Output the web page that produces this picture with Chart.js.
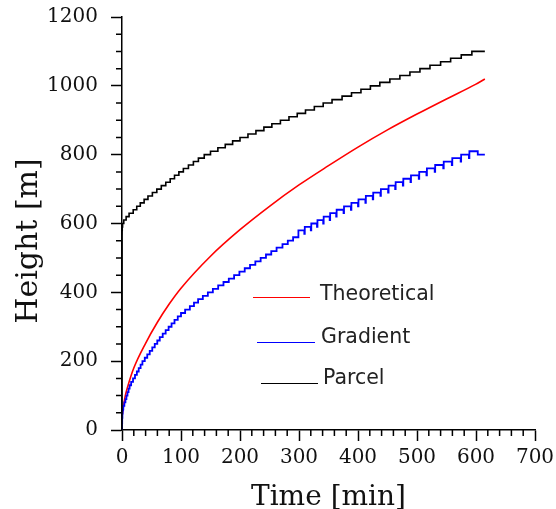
<!DOCTYPE html>
<html>
<head>
<meta charset="utf-8">
<script src="https://cdn.jsdelivr.net/npm/chart.js@4.4.1/dist/chart.umd.min.js"></script>
<style>
  html, body { margin: 0; padding: 0; background: #fff; }
  #wrap { width: 556px; height: 509px; }
</style>
</head>
<body>
<div id="wrap"><canvas id="c" width="556" height="509"></canvas></div>
<script>
// ---- data ----
const seriesNames = ['Theoretical', 'Gradient', 'Parcel'];
const xTicks = [0, 100, 200, 300, 400, 500, 600, 700];
const yTicks = [0, 200, 400, 600, 800, 1000, 1200];
const xTitle = 'Time [min]';
const yTitle = 'Height [m]';

// Theoretical (smooth curve): [time min, height m]
const theoretical = [
  [0, 40], [5, 95], [10, 128], [20, 180], [40, 252], [60, 313], [80, 366],
  [100, 412], [150, 505], [200, 582], [250, 650], [300, 712], [350, 768],
  [400, 822], [450, 872], [500, 918], [550, 962], [600, 1005], [615, 1020]
];

// Gradient (staircase): [time at which level is reached, level]
const gradient = [
  [0, 0], [0.3, 20], [0.7, 35], [1.2, 48], [1.7, 57], [2.2, 60], [4, 70], [5.8, 80],
  [7.5, 90], [9.3, 100], [11.1, 110], [12.9, 120], [15.5, 130], [18.7, 140], [22, 150],
  [25.2, 160], [28.3, 170], [31.5, 180], [34.6, 190], [38.6, 200], [42.8, 210], [47, 220],
  [51.3, 230], [55.5, 240], [59.8, 250], [64, 260], [69, 270], [74, 280], [79, 290],
  [84, 300], [89, 310], [94.5, 320], [100, 330], [107, 340], [115, 350], [122, 360],
  [129, 370], [137, 380], [145.5, 390], [154, 400], [163, 410], [172, 420], [181, 430],
  [190, 440], [199, 450], [208, 460], [217, 470], [226, 480], [235, 490], [244, 500],
  [253, 510], [262, 520], [272, 530], [281, 540], [290, 550], [299, 560], [309, 570],
  [320, 580], [330.5, 590], [341, 600], [352, 610], [363, 620], [375.5, 630], [388, 640],
  [400, 650], [412.5, 660], [425, 670], [438, 680], [451, 690], [463, 700], [476, 710],
  [489, 720], [503, 730], [516, 740], [530, 750], [544.5, 760], [559, 770], [574, 780],
  [588, 790], [603, 800], [615, 800]
];
// brief overshoot (m) visible at each Gradient step in the later part of the run
const gradientOvershoot = 10;
const gradientOvershootFrom = 300;

// Parcel (staircase): [time at which level is reached, level]
const parcel = [
  [0, 0], [0, 566], [0.1, 570], [0.4, 580], [1, 590], [3, 600], [7, 610], [12, 620],
  [19, 630], [25, 640], [31, 650], [37.5, 660], [44, 670], [51.5, 680], [59, 690],
  [66.6, 700], [74.2, 710], [81.7, 720], [89, 730], [96.4, 740], [104, 750], [112.6, 760],
  [121, 770], [129.5, 780], [139.4, 790], [150, 800], [162.5, 810], [175, 820],
  [187.5, 830], [200, 840], [213.5, 850], [227, 860], [240.5, 870], [254, 880],
  [268.5, 890], [283, 900], [297, 910], [311, 920], [326, 930], [341, 940], [356, 950],
  [373, 960], [389, 970], [405, 980], [421, 990], [437, 1000], [454, 1010], [471, 1020],
  [488, 1030], [505, 1040], [522, 1050], [540, 1060], [557, 1070], [575, 1080],
  [593, 1090], [610, 1100], [615, 1100]
];

// ---- chart ----
const toXY = arr => arr.map(p => ({ x: p[0], y: p[1] }));
const gradientXY = [];
gradient.forEach((p, i) => {
  if (p[0] >= gradientOvershootFrom && i < gradient.length - 1) {
    gradientXY.push({ x: p[0], y: p[1] + gradientOvershoot }, { x: p[0] + 0.8, y: p[1] });
  } else {
    gradientXY.push({ x: p[0], y: p[1] });
  }
});

const serif = "'DejaVu Serif', serif";
const sans = "'DejaVu Sans', sans-serif";

const decor = {
  id: 'decor',
  afterDraw(chart) {
    const ctx = chart.ctx, xs = chart.scales.x, ys = chart.scales.y;
    ctx.save();
    // minor ticks
    ctx.strokeStyle = '#000';
    ctx.lineWidth = 1.5;
    ctx.beginPath();
    for (let v = 20; v < 700; v += 20) {
      if (v % 100 === 0) continue;
      const px = xs.getPixelForValue(v);
      ctx.moveTo(px, ys.bottom);
      ctx.lineTo(px, ys.bottom + 6);
    }
    for (let v = 50; v < 1200; v += 50) {
      if (v % 200 === 0) continue;
      const py = ys.getPixelForValue(v);
      ctx.moveTo(xs.left, py);
      ctx.lineTo(xs.left - 6, py);
    }
    ctx.stroke();

    // y axis title
    ctx.save();
    ctx.translate(37, 241);
    ctx.rotate(-Math.PI / 2);
    ctx.font = "30px " + serif;
    ctx.fillStyle = '#111';
    ctx.textAlign = 'center';
    ctx.textBaseline = 'alphabetic';
    ctx.fillText(yTitle, 0, 0);
    ctx.restore();

    // in-plot legend
    const items = [
      { ds: 2, x1: 253, x2: 310, y: 297, tx: 320, ty: 295 },
      { ds: 1, x1: 257, x2: 315, y: 342, tx: 321, ty: 338 },
      { ds: 0, x1: 261, x2: 318, y: 383, tx: 323, ty: 379 }
    ];
    ctx.font = "20.5px " + sans;
    ctx.textBaseline = 'middle';
    ctx.textAlign = 'left';
    items.forEach(it => {
      const d = chart.data.datasets[it.ds];
      ctx.strokeStyle = d.borderColor;
      ctx.lineWidth = 1.2;
      ctx.beginPath();
      ctx.moveTo(it.x1, it.y + 0.5);
      ctx.lineTo(it.x2, it.y + 0.5);
      ctx.stroke();
      ctx.fillStyle = '#222';
      ctx.fillText(d.label, it.tx, it.ty);
    });
    ctx.restore();
  }
};

new Chart(document.getElementById('c'), {
  type: 'line',
  data: {
    datasets: [
      { label: seriesNames[2], data: toXY(parcel), borderColor: '#000000', borderWidth: 1.6,
        stepped: 'after', pointRadius: 0 },
      { label: seriesNames[1], data: gradientXY, borderColor: '#0000ff', borderWidth: 1.8,
        stepped: 'after', pointRadius: 0 },
      { label: seriesNames[0], data: toXY(theoretical), borderColor: '#ff0000', borderWidth: 1.6,
        cubicInterpolationMode: 'monotone', pointRadius: 0 }
    ]
  },
  options: {
    responsive: false,
    animation: false,
    events: [],
    layout: { padding: { top: 17, right: 21, left: 0, bottom: 0 } },
    plugins: { legend: { display: false }, tooltip: { enabled: false } },
    scales: {
      x: {
        type: 'linear', min: 0, max: 700,
        afterBuildTicks: s => { s.ticks = xTicks.map(v => ({ value: v })); },
        afterFit: s => { s.height = 79; s.paddingLeft = 0; s.paddingRight = 0; },
        border: { display: true, color: '#000', width: 1.5 },
        grid: { drawOnChartArea: false, drawTicks: true, tickLength: 11, tickColor: '#000', tickWidth: 1.5 },
        ticks: { color: '#111', font: { family: serif, size: 20 }, padding: 5, maxRotation: 0,
                 callback: v => String(v) },
        title: { display: true, text: xTitle, color: '#111',
                 font: { family: serif, size: 28, lineHeight: 0.8 }, padding: { top: 0, bottom: 0 } }
      },
      y: {
        type: 'linear', min: 0, max: 1200,
        afterBuildTicks: s => { s.ticks = yTicks.map(v => ({ value: v })); },
        afterFit: s => { s.width = 122; s.paddingTop = 0; s.paddingBottom = 0; },
        border: { display: true, color: '#000', width: 1.5 },
        grid: { drawOnChartArea: false, drawTicks: true, tickLength: 11, tickColor: '#000', tickWidth: 1.5 },
        ticks: { color: '#111', font: { family: serif, size: 20 }, padding: 13,
                 callback: v => String(v) }
      }
    }
  },
  plugins: [decor]
});
</script>
</body>
</html>
